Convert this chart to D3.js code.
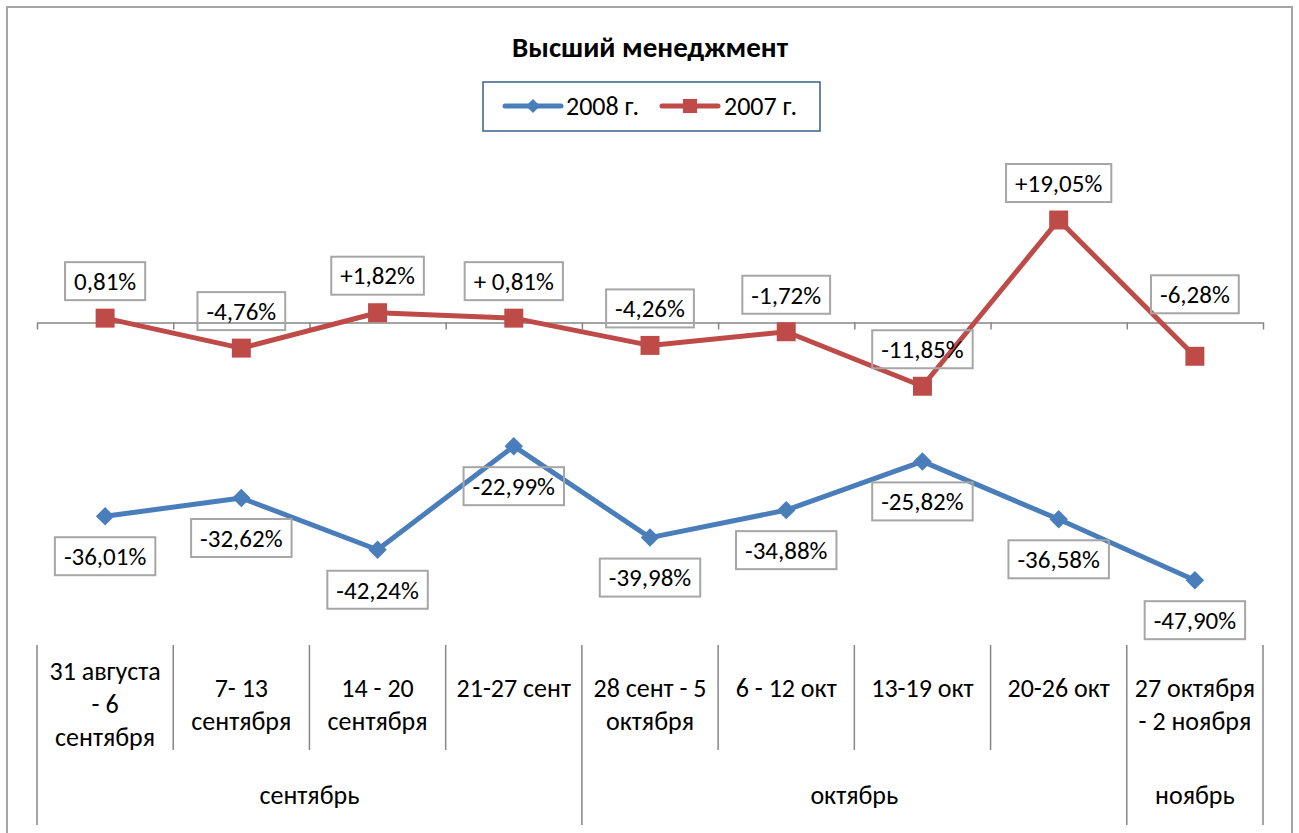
<!DOCTYPE html>
<html>
<head>
<meta charset="utf-8">
<script src="https://cdn.jsdelivr.net/npm/d3@7"></script>
<style>
  body { margin: 0; background: #fff; }
  text { font-family: Carlito, Calibri, "Liberation Sans", sans-serif; }
</style>
</head>
<body>
<div id="grafico"></div>
<script>
// Datos
const semanas = ["31 августа\n- 6\nсентября", "7- 13\nсентября", "14 - 20\nсентября", "21-27 сент",
  "28 сент - 5\nоктября", "6 - 12 окт", "13-19 окт", "20-26 окт", "27 октября\n- 2 ноября"];
const meses = ["сентябрь", "октябрь", "ноябрь"];
const semanasPorMes = [4, 4, 1];

const valores2008 = [-36.01, -32.62, -42.24, -22.99, -39.98, -34.88, -25.82, -36.58, -47.90];
const valores2007 = [0.81, -4.76, 1.82, 0.81, -4.26, -1.72, -11.85, 19.05, -6.28];

const etiquetas2008 = ["-36,01%", "-32,62%", "-42,24%", "-22,99%", "-39,98%", "-34,88%", "-25,82%", "-36,58%", "-47,90%"];
const etiquetas2007 = ["0,81%", "-4,76%", "+1,82%", "+ 0,81%", "-4,26%", "-1,72%", "-11,85%", "+19,05%", "-6,28%"];

// diamante = cuadrado girado 45 grados
const series = [
  { nombre: "2008 г.", valores: valores2008, etiquetas: etiquetas2008, color: "#4A7EBB", giro: 45, area: 170, areaLeyenda: 100, abajo: true },
  { nombre: "2007 г.", valores: valores2007, etiquetas: etiquetas2007, color: "#BE4B48", giro: 0, area: 360, areaLeyenda: 200, abajo: false }
];

const width = 1299, height = 833;

const svg = d3.select("#grafico").append("svg")
  .attr("width", width)
  .attr("height", height);

// marco del grafico
svg.append("rect")
  .attr("x", 7).attr("y", 7)
  .attr("width", 1285).attr("height", 860)
  .attr("fill", "#fff")
  .attr("stroke", "#A5A5A5")
  .attr("stroke-width", 2);

// titulo
svg.append("text")
  .attr("x", 650).attr("y", 47)
  .attr("dy", "0.35em")
  .attr("text-anchor", "middle")
  .attr("font-size", 29)
  .attr("font-weight", "bold")
  .text("Высший менеджмент");

// escalas
const x = d3.scaleBand().domain(d3.range(semanas.length)).range([37, 1263]).padding(0);
const xBordes = d3.scaleLinear().domain([0, semanas.length]).range([37, 1263]);
const y = d3.scaleLinear().domain([-60, 20]).range([645.3, 214.9]);
const centro = i => x(i) + x.bandwidth() / 2;

// eje horizontal en cero
const eje = svg.append("g")
  .attr("transform", `translate(0, ${y(0)})`)
  .call(d3.axisBottom(xBordes).tickValues(d3.range(semanas.length + 1)).tickFormat("").tickSize(7).tickSizeOuter(0));
eje.select(".domain").attr("stroke", "#868686").attr("stroke-width", 1.5);
eje.selectAll(".tick line").attr("stroke", "#868686").attr("stroke-width", 1.5);

// tabla de categorias
const tabla = svg.append("g");
const topTabla = 645, medioTabla = 750, finTabla = 825;
const limitesMes = [0, ...d3.cumsum(semanasPorMes)];

tabla.selectAll("line.semana")
  .data(d3.range(semanas.length + 1))
  .join("line")
  .attr("class", "semana")
  .attr("x1", d => xBordes(d)).attr("x2", d => xBordes(d))
  .attr("y1", topTabla)
  .attr("y2", d => limitesMes.includes(d) ? finTabla : medioTabla)
  .attr("stroke", "#868686").attr("stroke-width", 1.5);

semanas.forEach((s, i) => {
  const lineas = s.split("\n");
  const t = tabla.append("text")
    .attr("text-anchor", "middle")
    .attr("font-size", 26);
  const inicio = lineas.length === 3 ? 671 : 688;
  lineas.forEach((l, j) => {
    t.append("tspan")
      .attr("x", centro(i))
      .attr("y", inicio + j * 33)
      .attr("dy", "0.35em")
      .text(l);
  });
});

tabla.selectAll("text.mes")
  .data(meses)
  .join("text")
  .attr("class", "mes")
  .attr("x", (d, i) => (xBordes(limitesMes[i]) + xBordes(limitesMes[i + 1])) / 2)
  .attr("y", 795)
  .attr("dy", "0.35em")
  .attr("text-anchor", "middle")
  .attr("font-size", 26)
  .text(d => d);

// lineas y marcadores
const linea = d3.line().x((d, i) => centro(i)).y(d => y(d));

series.forEach(s => {
  svg.append("path")
    .datum(s.valores)
    .attr("d", linea)
    .attr("fill", "none")
    .attr("stroke", s.color)
    .attr("stroke-width", 5)
    .attr("stroke-linejoin", "round");

  svg.selectAll(null)
    .data(s.valores)
    .join("path")
    .attr("transform", (d, i) => `translate(${centro(i)}, ${y(d)}) rotate(${s.giro})`)
    .attr("d", d3.symbol(d3.symbolSquare, s.area))
    .attr("fill", s.color);
});

// etiquetas de datos
const ajuste2007 = { 8: -25 };
series.forEach(s => {
  s.valores.forEach((v, i) => {
    const cy = y(v) + (s.abajo ? 40 : -37 + (ajuste2007[i] || 0));
    const g = svg.append("g");
    const t = g.append("text")
      .attr("x", centro(i)).attr("y", cy)
      .attr("dy", "0.35em")
      .attr("text-anchor", "middle")
      .attr("font-size", 25)
      .text(s.etiquetas[i]);
    const w = t.node().getComputedTextLength();
    g.insert("rect", "text")
      .attr("x", centro(i) - w / 2 - 9)
      .attr("y", cy - 19)
      .attr("width", w + 18)
      .attr("height", 38)
      .attr("fill", "none")
      .attr("stroke", "#A6A6A6")
      .attr("stroke-width", 2);
  });
});

// leyenda
const leyenda = svg.append("g");
leyenda.append("rect")
  .attr("x", 483).attr("y", 82)
  .attr("width", 337).attr("height", 49)
  .attr("fill", "#fff")
  .attr("stroke", "#385D8A")
  .attr("stroke-width", 1.5);

const posLeyenda = [{ x0: 505, xt: 566 }, { x0: 662, xt: 724 }];
series.forEach((s, i) => {
  const p = posLeyenda[i];
  leyenda.append("line")
    .attr("x1", p.x0).attr("x2", p.x0 + 56)
    .attr("y1", 106).attr("y2", 106)
    .attr("stroke", s.color).attr("stroke-width", 5)
    .attr("stroke-linecap", "round");
  leyenda.append("path")
    .attr("transform", `translate(${p.x0 + 28}, 106) rotate(${s.giro})`)
    .attr("d", d3.symbol(d3.symbolSquare, s.areaLeyenda))
    .attr("fill", s.color);
  leyenda.append("text")
    .attr("x", p.xt).attr("y", 106)
    .attr("dy", "0.35em")
    .attr("font-size", 26)
    .text(s.nombre);
});
</script>
</body>
</html>
